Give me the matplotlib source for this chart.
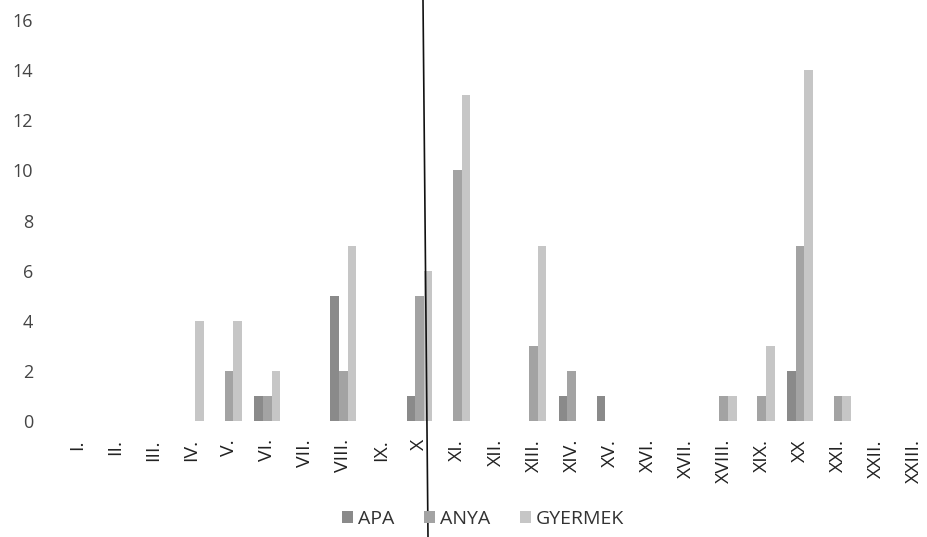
import matplotlib
matplotlib.use("Agg")
import matplotlib.pyplot as plt
import numpy as np
from matplotlib.lines import Line2D

categories = ["I.", "II.", "III.", "IV.", "V.", "VI.", "VII.", "VIII.", "IX.", "X",
              "XI.", "XII.", "XIII.", "XIV.", "XV.", "XVI.", "XVII.", "XVIII.", "XIX.", "XX",
              "XXI.", "XXII.", "XXIII."]
apa =     [0, 0, 0, 0, 0, 1, 0, 5, 0, 1, 0, 0, 0, 1, 1, 0, 0, 0, 0, 2, 0, 0, 0]
anya =    [0, 0, 0, 0, 2, 1, 0, 2, 0, 5, 10, 0, 3, 2, 0, 0, 0, 1, 1, 7, 1, 0, 0]
gyermek = [0, 0, 0, 4, 4, 2, 0, 7, 0, 6, 13, 0, 7, 0, 0, 0, 0, 1, 3, 14, 1, 0, 0]
series_names = ["APA", "ANYA", "GYERMEK"]
yticks = [0, 2, 4, 6, 8, 10, 12, 14, 16]

colors = ["#8a8a8a", "#a3a3a3", "#c6c6c6"]

plt.rcParams['font.family'] = ['Open Sans', 'DejaVu Sans']

fig = plt.figure(figsize=(9.28, 5.37), dpi=100)
ax = fig.add_axes([58/928, (537-421)/537, (928-58)/928, (421-20)/537])

x = np.arange(len(categories))
w = 0.225
for i, (vals, name, c) in enumerate(zip([apa, anya, gyermek], series_names, colors)):
    ax.bar(x + (i - 1) * w, vals, width=w, color=c, label=name, linewidth=0)

ax.set_xlim(-0.5, 22.37)
ax.set_ylim(0, 16)
ax.set_yticks(yticks)
ax.set_yticklabels([str(v) for v in yticks])
ax.set_xticks(x)
ax.set_xticklabels(categories, rotation=90)
ax.tick_params(axis='y', length=0, pad=18, labelsize=13, colors='#444444')
ax.tick_params(axis='x', length=0, pad=13, labelsize=14, colors='#222222')
for s in ax.spines.values():
    s.set_visible(False)

leg = fig.legend(loc='center', bbox_to_anchor=(483/928, 1 - 519/537), ncol=3,
                 frameon=False, fontsize=14, handlelength=0.6, handleheight=0.6,
                 handletextpad=0.25, columnspacing=1.5)
for t in leg.get_texts():
    t.set_color('#333333')

# scan artefact: thin dark vertical line across the page
fig.add_artist(Line2D([423/928, 428/928], [1.0, 0.0], transform=fig.transFigure,
                      color='#111111', linewidth=1.2))

fig.savefig("out.png", dpi=100)
